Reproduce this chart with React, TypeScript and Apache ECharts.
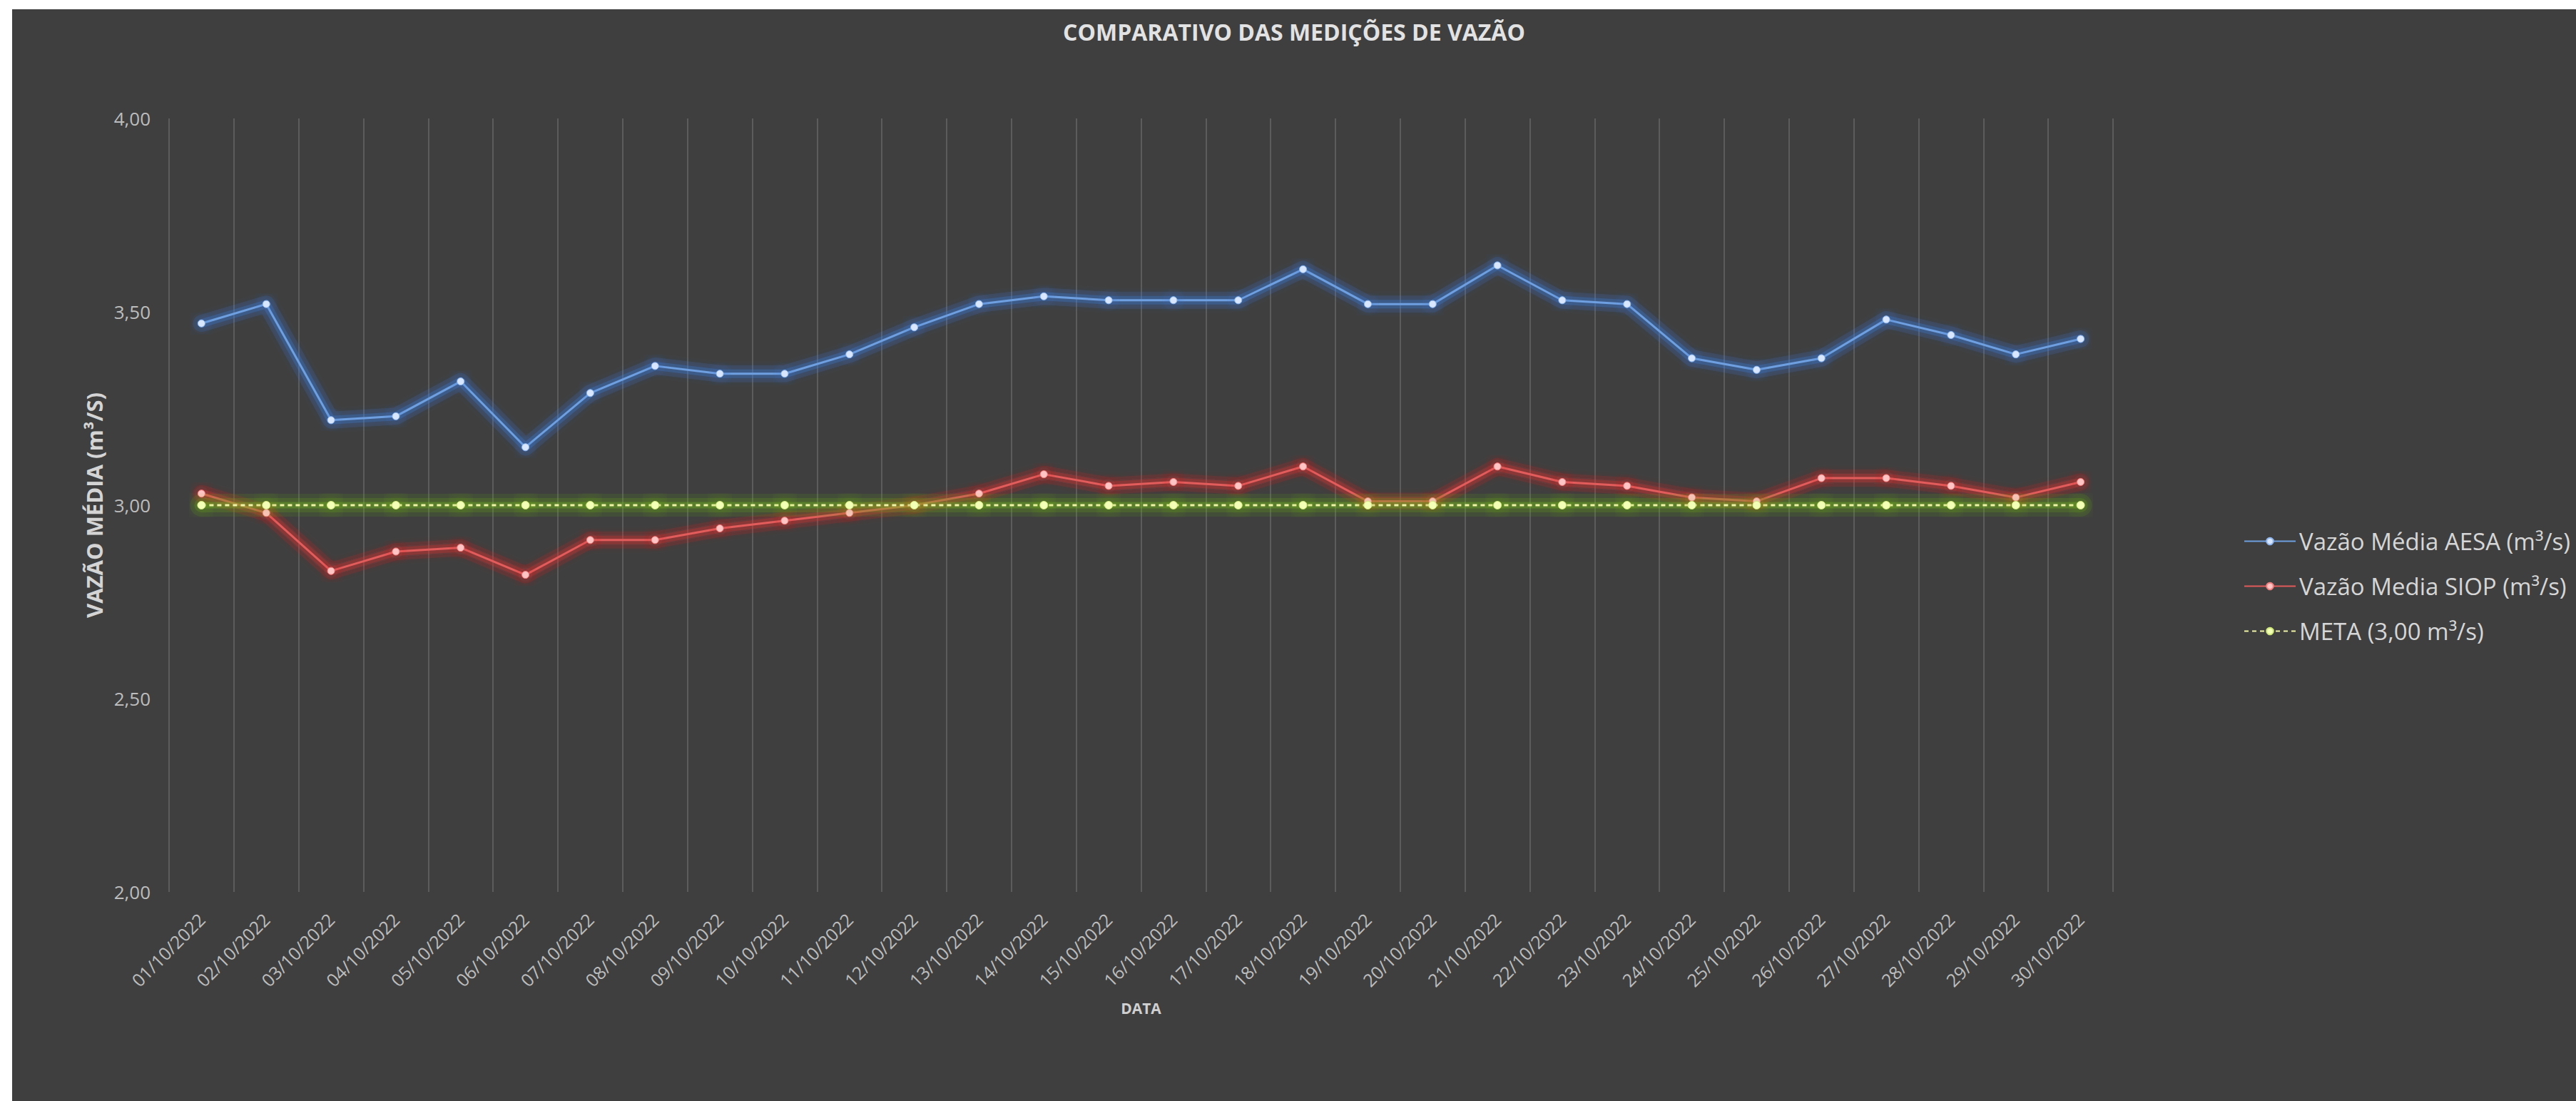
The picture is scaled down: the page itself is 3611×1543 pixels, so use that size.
import React, { useEffect, useRef } from "react";
import * as echarts from "echarts";

const dates = [
  "01/10/2022", "02/10/2022", "03/10/2022", "04/10/2022", "05/10/2022",
  "06/10/2022", "07/10/2022", "08/10/2022", "09/10/2022", "10/10/2022",
  "11/10/2022", "12/10/2022", "13/10/2022", "14/10/2022", "15/10/2022",
  "16/10/2022", "17/10/2022", "18/10/2022", "19/10/2022", "20/10/2022",
  "21/10/2022", "22/10/2022", "23/10/2022", "24/10/2022", "25/10/2022",
  "26/10/2022", "27/10/2022", "28/10/2022", "29/10/2022", "30/10/2022",
];

const vazaoAESA = [
  3.47, 3.52, 3.22, 3.23, 3.32, 3.15, 3.29, 3.36, 3.34, 3.34,
  3.39, 3.46, 3.52, 3.54, 3.53, 3.53, 3.53, 3.61, 3.52, 3.52,
  3.62, 3.53, 3.52, 3.38, 3.35, 3.38, 3.48, 3.44, 3.39, 3.43,
];

const vazaoSIOP = [
  3.03, 2.98, 2.83, 2.88, 2.89, 2.82, 2.91, 2.91, 2.94, 2.96,
  2.98, 3.0, 3.03, 3.08, 3.05, 3.06, 3.05, 3.1, 3.01, 3.01,
  3.1, 3.06, 3.05, 3.02, 3.01, 3.07, 3.07, 3.05, 3.02, 3.06,
];

const meta = [
  3.0, 3.0, 3.0, 3.0, 3.0, 3.0, 3.0, 3.0, 3.0, 3.0,
  3.0, 3.0, 3.0, 3.0, 3.0, 3.0, 3.0, 3.0, 3.0, 3.0,
  3.0, 3.0, 3.0, 3.0, 3.0, 3.0, 3.0, 3.0, 3.0, 3.0,
];

const seriesNames = [
  "Vazão Média AESA (m³/s)",
  "Vazão Media SIOP (m³/s)",
  "META (3,00 m³/s)",
];

const FONT = "Open Sans";

function glow(data: number[], color: string, width: number) {
  return {
    type: "line",
    data,
    silent: true,
    symbol: "none",
    lineStyle: { color, width, cap: "round", join: "round" },
  };
}

export default function App() {
  const ref = useRef<HTMLDivElement>(null);

  useEffect(() => {
    if (!ref.current) return;
    const chart = echarts.init(ref.current, null, { renderer: "svg" });
    const option = {
      animation: false,
      backgroundColor: "#3f3f3f",
      textStyle: { fontFamily: FONT },
      title: {
        text: "COMPARATIVO DAS MEDIÇÕES DE VAZÃO",
        left: "center",
        top: 15,
        padding: 0,
        textStyle: {
          color: "#e2e2e2",
          fontSize: 32,
          fontWeight: "bold",
          fontFamily: FONT,
        },
      },
      legend: {
        orient: "vertical",
        left: 3123,
        top: 724,
        itemWidth: 72,
        itemHeight: 12,
        itemGap: 30,
        data: seriesNames,
        textStyle: {
          color: "#d6d6d6",
          fontSize: 33,
          lineHeight: 32,
          fontFamily: FONT,
        },
      },
      grid: {
        left: 220,
        top: 153,
        right: 649,
        bottom: 293,
        containLabel: false,
      },
      xAxis: {
        type: "category",
        data: dates,
        boundaryGap: true,
        name: "DATA",
        nameLocation: "middle",
        nameGap: 152,
        nameTextStyle: {
          color: "#d0d0d0",
          fontSize: 21,
          fontWeight: "bold",
          fontFamily: FONT,
        },
        axisLine: { show: false },
        axisTick: { show: false },
        axisLabel: {
          interval: 0,
          rotate: 45,
          margin: 34,
          color: "#bdbdbd",
          fontSize: 25,
          fontFamily: FONT,
        },
        splitLine: {
          show: true,
          interval: 0,
          lineStyle: { color: "#5c5c5c", width: 2 },
        },
      },
      yAxis: {
        type: "value",
        min: 2,
        max: 4,
        interval: 0.5,
        name: "VAZÃO MÉDIA (m³/S)",
        nameLocation: "middle",
        nameRotate: 90,
        nameGap: 90,
        nameTextStyle: {
          color: "#d4d4d4",
          fontSize: 31,
          fontWeight: "bold",
          fontFamily: FONT,
        },
        axisLine: { show: false },
        axisTick: { show: false },
        splitLine: { show: false },
        axisLabel: {
          margin: 26,
          color: "#bdbdbd",
          fontSize: 26,
          fontFamily: FONT,
          formatter: (v: number) => v.toFixed(2).replace(".", ","),
        },
      },
      series: [
        glow(vazaoAESA, "rgba(60,120,215,0.16)", 24),
        glow(vazaoAESA, "rgba(70,130,220,0.28)", 12),
        {
          name: seriesNames[0],
          type: "line",
          data: vazaoAESA,
          symbol: "circle",
          symbolSize: 10,
          lineStyle: {
            color: "#6e9fe0",
            width: 3,
            shadowColor: "rgba(55,115,215,1)",
            shadowBlur: 16,
          },
          itemStyle: {
            color: "#d8e7ff",
            borderColor: "#8fb6ee",
            borderWidth: 1,
            shadowColor: "rgba(55,115,215,1)",
            shadowBlur: 18,
          },
        },
        glow(vazaoSIOP, "rgba(215,45,45,0.16)", 24),
        glow(vazaoSIOP, "rgba(220,50,50,0.28)", 12),
        {
          name: seriesNames[1],
          type: "line",
          data: vazaoSIOP,
          symbol: "circle",
          symbolSize: 10,
          lineStyle: {
            color: "#e25b5b",
            width: 3,
            shadowColor: "rgba(225,40,40,1)",
            shadowBlur: 16,
          },
          itemStyle: {
            color: "#ffc4c4",
            borderColor: "#f08080",
            borderWidth: 1,
            shadowColor: "rgba(225,40,40,1)",
            shadowBlur: 18,
          },
        },
        glow(meta, "rgba(95,160,25,0.16)", 32),
        glow(meta, "rgba(105,175,25,0.22)", 20),
        glow(meta, "rgba(125,195,35,0.3)", 9),
        {
          name: seriesNames[2],
          type: "line",
          data: meta,
          symbol: "circle",
          symbolSize: 11,
          lineStyle: {
            color: "#eef3a6",
            width: 3,
            type: [6, 5],
          },
          itemStyle: {
            color: "#f3ffb6",
            borderColor: "#cfe87a",
            borderWidth: 1,
            shadowColor: "rgba(120,200,30,1)",
            shadowBlur: 22,
          },
        },
      ],
    };
    chart.setOption(option);
    return () => chart.dispose();
  }, []);

  return (
    <div
      ref={ref}
      style={{
        position: "absolute",
        left: 17,
        top: 13,
        width: 3594,
        height: 1530,
        background: "#3f3f3f",
      }}
    />
  );
}
